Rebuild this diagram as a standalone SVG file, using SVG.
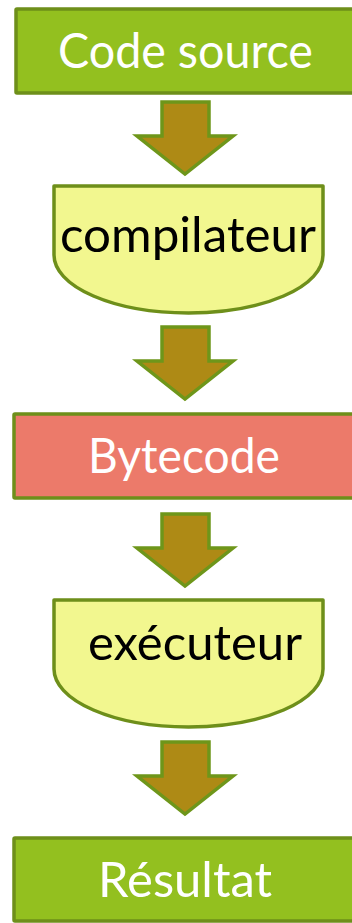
<svg xmlns="http://www.w3.org/2000/svg" width="352" height="923" viewBox="0 0 352 923">
<style>
.box{fill:#93C01F;stroke:#6E8F1A;stroke-width:3.5}
.red{fill:#EC7A6A;stroke:#6E8F1A;stroke-width:3.5}
.proc{fill:#F2F78F;stroke:#6E8F1A;stroke-width:3.5;stroke-linejoin:round}
.arr{fill:#AE8A15;stroke:#6E961A;stroke-width:3.5;stroke-linejoin:miter}
.w{fill:#FFFFFF;font-family:Lato,"Open Sans",sans-serif;font-size:48px}
.k{fill:#000000;font-family:Lato,"Open Sans",sans-serif;font-size:49px}
</style>
<defs>
<path id="a" d="M162,0 H209 V34 H233 L185,72 L137,34 H162 Z"/>
</defs>
<g id="n1"><rect class="box" x="16" y="9" width="345" height="84" rx="1"/><text class="w" x="58" y="68" textLength="255" lengthAdjust="spacingAndGlyphs">Code source</text></g>
<g id="n2"><path class="proc" d="M54,186 H323 V255 A134.5,58 0 0 1 54,255 Z"/><text class="k" x="60" y="252" textLength="256" lengthAdjust="spacingAndGlyphs">compilateur</text></g>
<g id="n3"><rect class="red" x="14" y="414" width="345" height="84" rx="1"/><text class="w" x="88" y="473" textLength="192" lengthAdjust="spacingAndGlyphs">Bytecode</text></g>
<g id="n4"><path class="proc" d="M54,600 H323 V669 A134.5,58 0 0 1 54,669 Z"/><text class="k" x="88" y="660" textLength="214" lengthAdjust="spacingAndGlyphs">exécuteur</text></g>
<g id="n5"><rect class="box" x="14" y="838" width="345" height="83" rx="1"/><text class="w" x="98" y="897" textLength="174" lengthAdjust="spacingAndGlyphs">Résultat</text></g>
<g id="connectors">
<use href="#a" class="arr" transform="translate(0,102)"/>
<use href="#a" class="arr" transform="translate(0,327)"/>
<use href="#a" class="arr" transform="translate(0,514)"/>
<use href="#a" class="arr" transform="translate(0,742)"/>
</g>
</svg>
